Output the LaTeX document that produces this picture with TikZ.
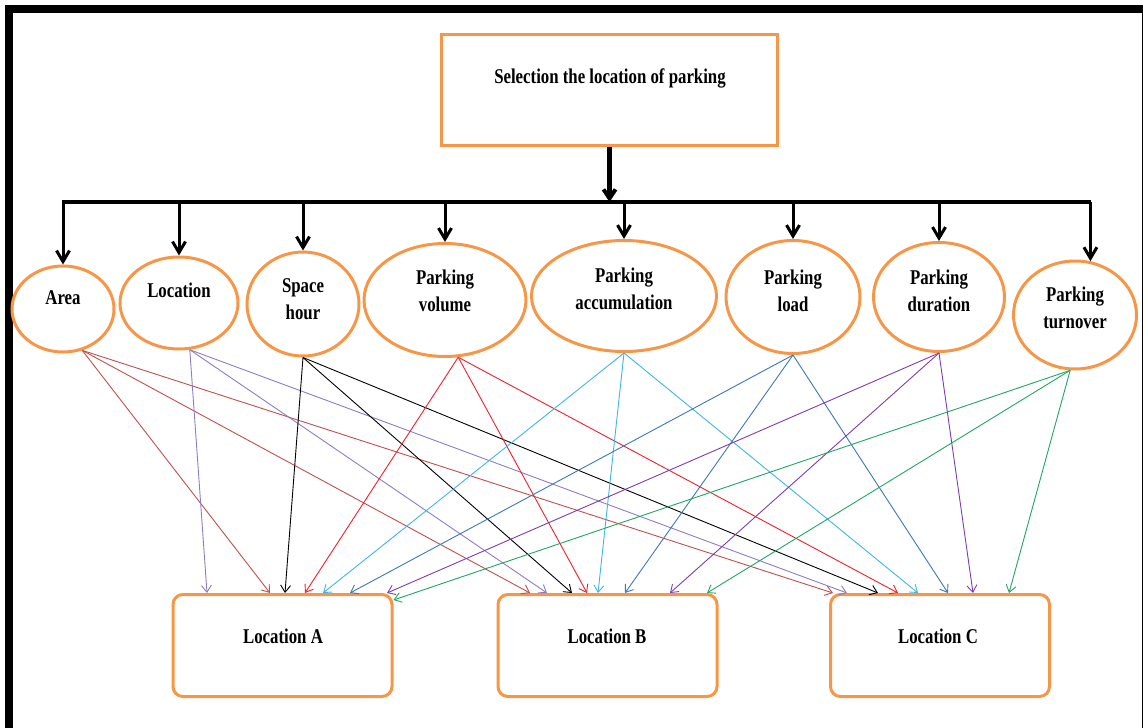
\documentclass[tikz,border=0pt]{standalone}
\usepackage{fontspec}
\setmainfont{Liberation Serif}[FakeStretch=0.8]
\usetikzlibrary{arrows.meta,shapes.geometric}

\definecolor{boxorange}{HTML}{F79646}
\definecolor{areac}{HTML}{C0504D}
\definecolor{locc}{HTML}{8E7CC3}
\definecolor{volc}{HTML}{F0202A}
\definecolor{accc}{HTML}{3DB7E4}
\definecolor{loadc}{HTML}{3A78B5}
\definecolor{durc}{HTML}{7D3CB5}
\definecolor{turnc}{HTML}{22A565}

\begin{document}
\begin{tikzpicture}[x=1pt, y=-1pt,
        factor/.style={ellipse, draw=boxorange, line width=3pt, inner sep=0pt},
        place/.style={rectangle, rounded corners=10pt, draw=boxorange, line width=3pt, minimum width=219pt, minimum height=102pt},
        lbl/.style={font=\fontsize{21}{27}\selectfont\bfseries, align=center, inner sep=0pt},
        drop/.style={line width=3pt, -{Straight Barb[length=11pt,width=13pt,line width=3pt]}},
        stemline/.style={line width=5pt, -{Straight Barb[length=9pt,width=12pt,line width=4pt]}},
        link/.style={line width=0.9pt, -{Straight Barb[length=7pt,width=10pt,line width=0.9pt]}}]
        \useasboundingbox (0,0) rectangle (1143,728);
        \draw[line width=8pt, line join=miter] (9,735) -- (9,8.5) -- (1146,8.5) -- (1146,735);

        \node[rectangle, draw=boxorange, line width=3pt, minimum width=336pt, minimum height=111pt] (sel) at (609.5,90) {};
        \node[lbl] (sel-t) at (610,78) {Selection the location of parking};

        \node[factor, minimum width=102pt, minimum height=86pt] (area) at (63,309) {};
        \node[factor, minimum width=118pt, minimum height=92pt] (loc) at (179,303) {};
        \node[factor, minimum width=112pt, minimum height=104pt] (space) at (303,304) {};
        \node[factor, minimum width=162pt, minimum height=113pt] (vol) at (445,300) {};
        \node[factor, minimum width=185pt, minimum height=111pt] (accum) at (624,296) {};
        \node[factor, minimum width=134pt, minimum height=113pt] (load) at (793,297) {};
        \node[factor, minimum width=131pt, minimum height=109pt] (dur) at (939,297) {};
        \node[factor, minimum width=123pt, minimum height=108pt] (turn) at (1075,315) {};

        \node[lbl] (area-t) at (63,298) {Area};
        \node[lbl] (loc-t) at (179,290) {Location};
        \node[lbl] (space-t) at (303,299) {Space\\hour};
        \node[lbl] (vol-t) at (445,291) {Parking\\volume};
        \node[lbl] (accum-t) at (624,289) {Parking\\accumulation};
        \node[lbl] (load-t) at (793,291) {Parking\\load};
        \node[lbl] (dur-t) at (939,291) {Parking\\duration};
        \node[lbl] (turn-t) at (1075,308) {Parking\\turnover};

        \node[place] (A) at (282.5,645.5) {};
        \node[place] (B) at (607.5,645.5) {};
        \node[place] (C) at (940,645.5) {};
        \node[lbl] (A-t) at (283,636) {Location A};
        \node[lbl] (B-t) at (607,636) {Location B};
        \node[lbl] (C-t) at (938,636) {Location C};

        \coordinate (busL) at (62,202);
        \coordinate (busR) at (1091,202);
        \draw[line width=4pt] (busL) -- (busR);
        \draw[stemline] (sel.south) -- (sel.south |- busL);
        \draw[drop] (area.north |- busL) -- (area.north);
        \draw[drop] (loc.north |- busL) -- (loc.north);
        \draw[drop] (space.north |- busL) -- (space.north);
        \draw[drop] (vol.north |- busL) -- (vol.north);
        \draw[drop] (accum.north |- busL) -- (accum.north);
        \draw[drop] (load.north |- busL) -- (load.north);
        \draw[drop] (dur.north |- busL) -- (dur.north);
        \draw[drop] (turn.74 |- busL) -- (turn.74);

        \draw[link, areac] (area.-65) -- ([xshift=-12.5pt]A.north);
        \draw[link, areac] (area.-65) -- ([xshift=-77.5pt]B.north);
        \draw[link, areac] (area.-65) -- ([xshift=-107pt]C.north);
        \draw[link, locc] (loc.-77) -- ([xshift=-75.5pt]A.north);
        \draw[link, locc] (loc.-77) -- ([xshift=-60.5pt]B.north);
        \draw[link, locc] (loc.-77) -- ([xshift=-93pt]C.north);
        \draw[link, black] (space.south) -- ([xshift=2.5pt]A.north);
        \draw[link, black] (space.south) -- ([xshift=-35.5pt]B.north);
        \draw[link, black] (space.south) -- ([xshift=-62pt]C.north);
        \draw[link, volc] (vol.-77) -- ([xshift=22.5pt]A.north);
        \draw[link, volc] (vol.-77) -- ([xshift=-20.5pt]B.north);
        \draw[link, volc] (vol.-77) -- ([xshift=-42pt]C.north);
        \draw[link, accc] (accum.south) -- ([xshift=40.5pt]A.north);
        \draw[link, accc] (accum.south) -- ([xshift=-9.5pt]B.north);
        \draw[link, accc] (accum.south) -- ([xshift=-22pt]C.north);
        \draw[link, loadc] (load.south) -- ([xshift=67.5pt]A.north);
        \draw[link, loadc] (load.south) -- ([xshift=17.5pt]B.north);
        \draw[link, loadc] (load.south) -- ([xshift=8pt]C.north);
        \draw[link, durc] (dur.south) -- ([xshift=104.5pt]A.north);
        \draw[link, durc] (dur.south) -- ([xshift=62.5pt]B.north);
        \draw[link, durc] (dur.south) -- ([xshift=33pt]C.north);
        \draw[link, turnc] (turn.-95) -- ([yshift=-7pt]A.north east);
        \draw[link, turnc] (turn.-95) -- ([xshift=99.5pt]B.north);
        \draw[link, turnc] (turn.-95) -- ([xshift=69pt]C.north);
    \end{tikzpicture}
\end{document}
